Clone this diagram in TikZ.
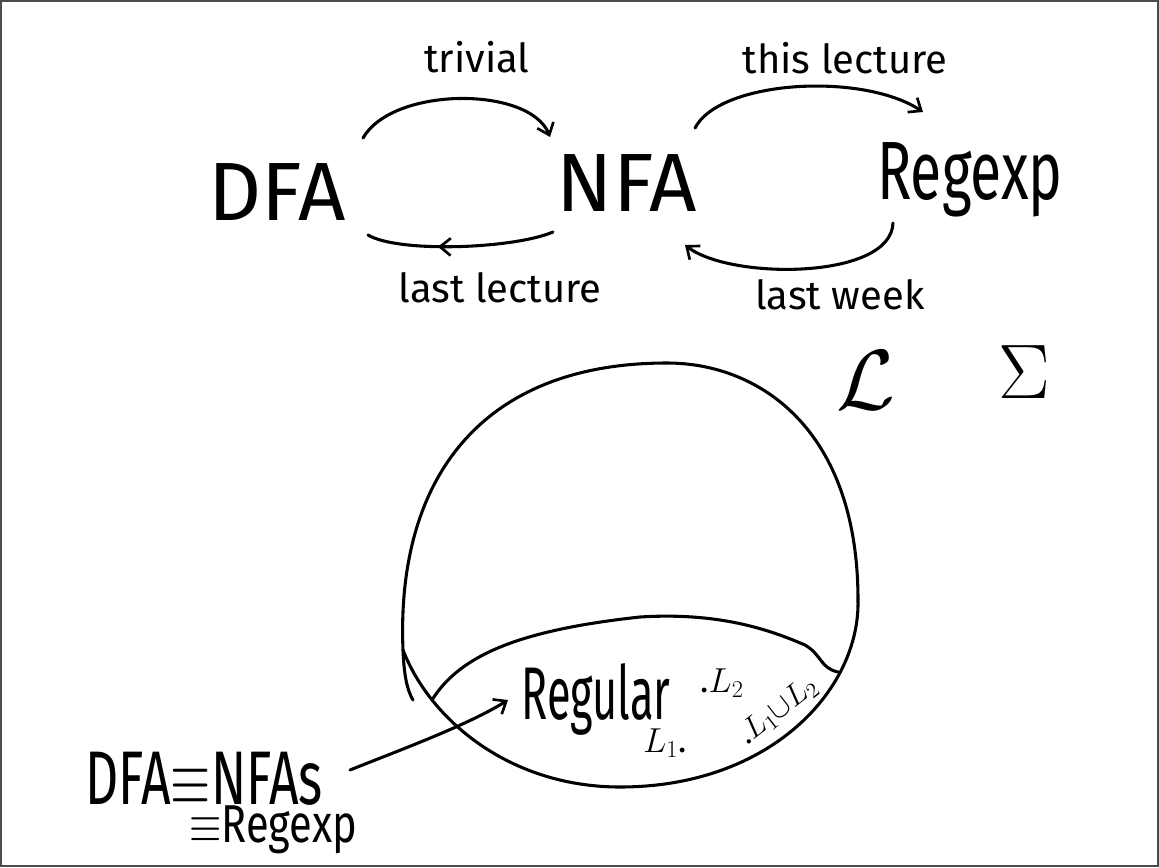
\RequirePackage{fix-cm}
\documentclass[tikz,border=0pt]{standalone}
\usepackage{fontspec}
\setmainfont{Fira Sans}
\usetikzlibrary{arrows.meta,calc,decorations.markings}
\tikzset{
  hand/.style={line width=2.3pt,line cap=round,line join=round},
  arr/.style={hand,-{Straight Barb[length=8pt,width=13pt,line width=2pt]}},
  midarr/.style={hand,decoration={markings,mark=at position 0.62 with {\arrow{Straight Barb[length=8pt,width=13pt,line width=2pt]}}},postaction={decorate}},
  big/.style={font=\fontsize{62}{68}\selectfont},
  note/.style={font=\fontsize{30}{34}\selectfont},
  small/.style={font=\fontsize{26}{30}\selectfont}
}
\newcommand{\narrow}[2]{\scalebox{#1}[1]{#2}}

\begin{document}
\begin{tikzpicture}[x=0.75pt,y=-0.75pt]
\useasboundingbox (0,0) rectangle (1159,867);
\draw[black!70,line width=1.2pt] (1,1) rectangle (1158,866);

\node[big] (DFA) at (277,192) {DFA};
\node[big] (NFA) at (627,183) {NFA};
\node[big] (Regexp) at (970,180) {\narrow{0.69}{Regexp}};

\node[note] (trivial) at (477,57) {trivial};
\node[note] (thislec) at (845,58) {this lecture};
\node[note] (lastlec) at (500,288) {last lecture};
\node[note] (lastweek) at (840,295) {last week};

\draw[arr] ($(DFA)+(86,-54)$) .. controls +(30,-52) and +(-20,-51) .. ($(NFA)+(-77,-46)$);
\draw[midarr] ($(NFA)+(-74,49)$) .. controls +(-40,17) and +(30,18) .. ($(DFA)+(91,43)$);
\draw[arr] ($(NFA)+(68,-55)$) .. controls +(25,-48) and +(-60,-40) .. ($(Regexp)+(-47,-68)$);
\draw[arr] ($(Regexp)+(-77,43)$) .. controls +(-2,57) and +(45,35) .. ($(NFA)+(58,62)$);

\node[font=\fontsize{64}{70}\selectfont] (Lang) at (866,380) {$\mathcal{L}$};
\node[font=\fontsize{58}{64}\selectfont] (Sigma) at (1024,372) {$\Sigma$};

\draw[hand] (667,363) .. controls (760,363) and (858,430) .. (858,600)
  .. controls (860,690) and (770,787) .. (620,787)
  .. controls (510,787) and (430,720) .. (403,650)
  .. controls (396,480) and (480,363) .. (667,363);
\draw[hand] (403,650) .. controls (404,675) and (407,690) .. (413,700);
\draw[hand] (432,700) .. controls (460,655) and (520,630) .. (640,617)
  .. controls (720,612) and (770,630) .. (805,645)
  .. controls (822,655) and (820,668) .. (838,672);

\node[font=\fontsize{56}{62}\selectfont] (reg) at (596,699) {\narrow{0.58}{Regular}};
\node[small] (L2) at (722,683) {.$L_2$};
\node[small] (L1) at (665,743) {$L_1$.};
\node[font=\fontsize{23}{26}\selectfont,rotate=38,inner sep=0pt] (L1L2) at (778,711) {.$L_1{\cup}L_2$};

\node[font=\fontsize{57}{62}\selectfont] (eq) at (204,779) {\narrow{0.68}{DFA$\equiv$NFAs}};
\node[font=\fontsize{40}{44}\selectfont] (eq2) at (273,830) {\narrow{0.78}{$\equiv$Regexp}};
\draw[arr] ($(eq)+(146,-9)$) .. controls +(50,-20) and +(-40,25) .. ($(reg)+(-88,1)$);
\end{tikzpicture}
\end{document}
